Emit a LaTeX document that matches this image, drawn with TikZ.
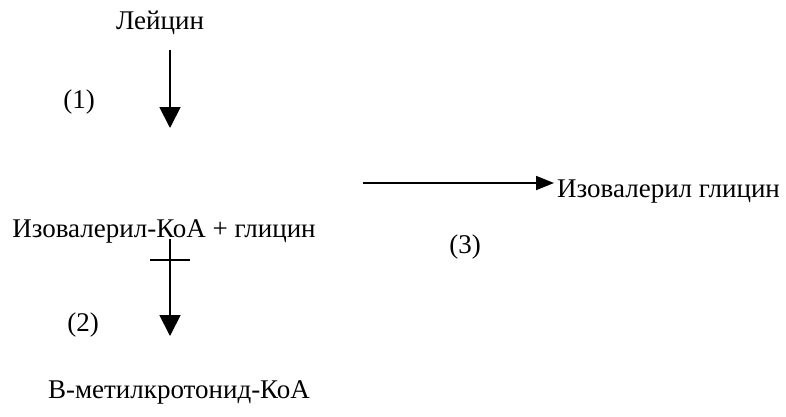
\documentclass[tikz,border=0pt]{standalone}
\usepackage{fontspec}
\setmainfont{Liberation Serif}
\usetikzlibrary{arrows.meta}
\begin{document}
\begin{tikzpicture}[x=1pt,y=-1pt,
  lbl/.style={anchor=base,inner sep=0pt,font=\fontsize{27}{31}\selectfont},
  vflow/.style={line width=1.8pt,-{Triangle[width=21pt,length=21pt]}},
  hflow/.style={line width=1.8pt,-{Triangle[width=14pt,length=18pt]}},
  block/.style={line width=1.8pt}]
\useasboundingbox (0,0) rectangle (786,416);
% compounds
\node[lbl] (leu) at (160,29) {Лейцин};
\node[lbl] (ivcoa) at (164,237) {Изовалерил-КоА + глицин};
\node[lbl] (mcc) at (179,398) {В-метилкротонид-КоА};
\node[lbl,anchor=base west] (ivgly) at (557,197) {Изовалерил глицин};
% step numbers
\node[lbl] (n1) at (79,108) {(1)};
\node[lbl] (n2) at (83,331) {(2)};
\node[lbl] (n3) at (465,253) {(3)};
% arrow ends
\coordinate (a1s) at (170,50);
\coordinate (a1e) at (170,128);
\coordinate (a2s) at (170,239);
\coordinate (a2e) at (170,336);
\coordinate (a3s) at (363,183);
\coordinate (a3e) at (554,183);
\coordinate (barl) at (150,260);
\coordinate (barr) at (190,260);
% reactions
\draw[vflow] (a1s) -- (a1e);
\draw[vflow] (a2s) -- (a2e);
\draw[block] (barl) -- (barr);
\draw[hflow] (a3s) -- (a3e);
\end{tikzpicture}
\end{document}
